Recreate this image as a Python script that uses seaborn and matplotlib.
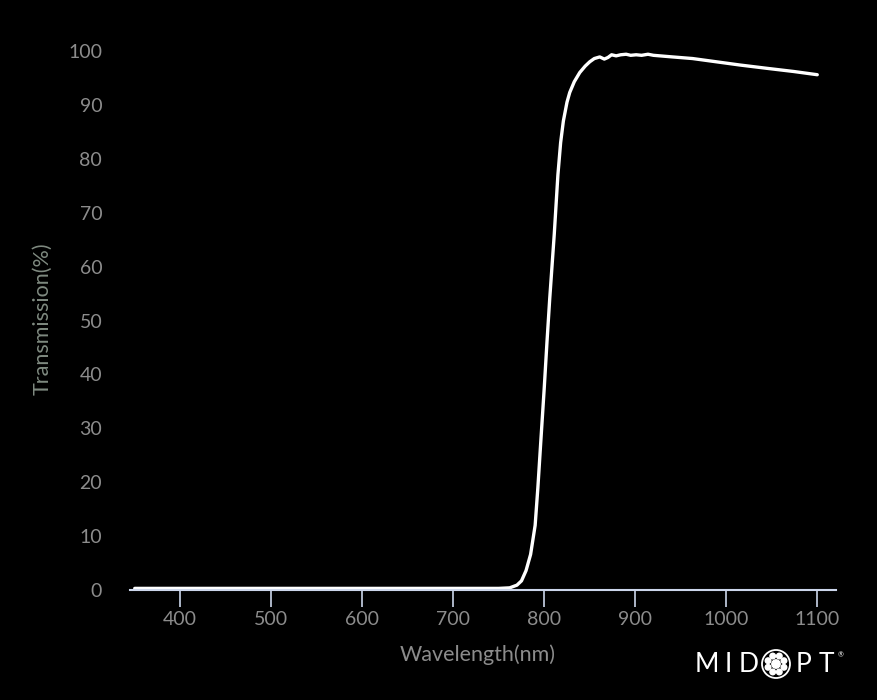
import matplotlib
matplotlib.use("Agg")
import matplotlib.pyplot as plt
import seaborn as sns
import pandas as pd
import math
from matplotlib.patches import Circle

# ---- data ----
wavelength = [350, 400, 500, 600, 700, 750, 762, 770, 775, 780, 785, 790, 793,
              796, 800, 803, 806, 811, 815, 818, 821, 825, 828, 833, 839, 845,
              850, 855, 861, 866, 870, 874, 879, 884, 890, 895, 901, 907, 914,
              920, 927, 941, 963, 989, 1015, 1044, 1074, 1100]
transmission = [0.3, 0.3, 0.3, 0.3, 0.3, 0.3, 0.4, 0.9, 1.7, 3.6, 6.6, 12.0, 19.0,
                27.0, 37.5, 46.0, 54.0, 66.0, 77.0, 83.0, 87.0, 90.5, 92.3, 94.3, 96.0, 97.2,
                98.0, 98.6, 98.9, 98.5, 98.8, 99.3, 99.1, 99.3, 99.4, 99.2, 99.3, 99.2, 99.4,
                99.2, 99.1, 98.9, 98.6, 98.0, 97.4, 96.8, 96.2, 95.6]
x_ticks = [400, 500, 600, 700, 800, 900, 1000, 1100]
y_ticks = [0, 10, 20, 30, 40, 50, 60, 70, 80, 90, 100]
x_title = "Wavelength(nm)"
y_title = "Transmission(%)"

df = pd.DataFrame({"Wavelength": wavelength, "Transmission": transmission})

sns.set_theme(style="dark")
plt.rcParams["font.family"] = ["Lato", "DejaVu Sans"]

W, H = 878, 700
fig = plt.figure(figsize=(W / 100, H / 100), dpi=100, facecolor="black")
left, right = 130 / W, 836 / W
bottom = (H - 590) / H
top_px = 590 - 101 * 5.39
top = (H - top_px) / H
ax = fig.add_axes([left, bottom, right - left, top - bottom])
ax.set_facecolor("black")

sns.lineplot(data=df, x="Wavelength", y="Transmission", ax=ax,
             color="white", linewidth=2.4, clip_on=False)

ax.set_xlim(344.8, 1120.6)
ax.set_ylim(0, 101)
ax.set_xticks(x_ticks)
ax.set_yticks(y_ticks)
ax.grid(False)

for s in ["top", "right", "left"]:
    ax.spines[s].set_visible(False)
ax.spines["bottom"].set_color("#ccd6eb")
ax.spines["bottom"].set_linewidth(1.5)

label_col = "#8c8c8c"
ax.tick_params(axis="x", bottom=True, direction="out", colors="#ccd6eb",
               length=12, width=1.2, pad=3, labelcolor=label_col, labelsize=14)
ax.tick_params(axis="y", left=False, length=0, pad=20, labelcolor=label_col,
               labelsize=14)

ax.set_xlabel(x_title, color="#8c8c8c", fontsize=15.5)
ax.set_ylabel(y_title, color="#7f8a80", fontsize=15.5)
# place axis titles (axes-fraction coordinates)
ax.xaxis.set_label_coords((477.5 - 130) / (836 - 130), -(655 - 590) / (590 - top_px))
ax.yaxis.set_label_coords(-(130 - 42) / (836 - 130), (590 - 319) / (590 - top_px))
ax.xaxis.label.set_va("center")
ax.yaxis.label.set_va("center")

# ---- logo overlay in pixel coords ----
lax = fig.add_axes([0, 0, 1, 1], facecolor="none")
lax.set_xlim(0, W)
lax.set_ylim(H, 0)
lax.axis("off")
logo_font = dict(color="white", fontsize=19, va="center", ha="center",
                 family=["Lato", "DejaVu Sans"])
for ch, cx in [("M", 707), ("I", 728.5), ("D", 748.5), ("P", 804), ("T", 826)]:
    lax.text(cx, 664, ch, **logo_font)
lax.text(841, 655, "®", color="white", fontsize=5, va="center", ha="center")
ocx, ocy = 776, 664
lax.add_patch(Circle((ocx, ocy), 14, fill=False, edgecolor="white", lw=1.3))
for k in range(8):
    a = 2 * math.pi * k / 8 + math.pi / 8
    lax.add_patch(Circle((ocx + 8.6 * math.cos(a), ocy + 8.6 * math.sin(a)), 2.8,
                         color="white"))
lax.add_patch(Circle((ocx, ocy), 4.2, color="white"))

fig.savefig("out.png", dpi=100, facecolor="black")
